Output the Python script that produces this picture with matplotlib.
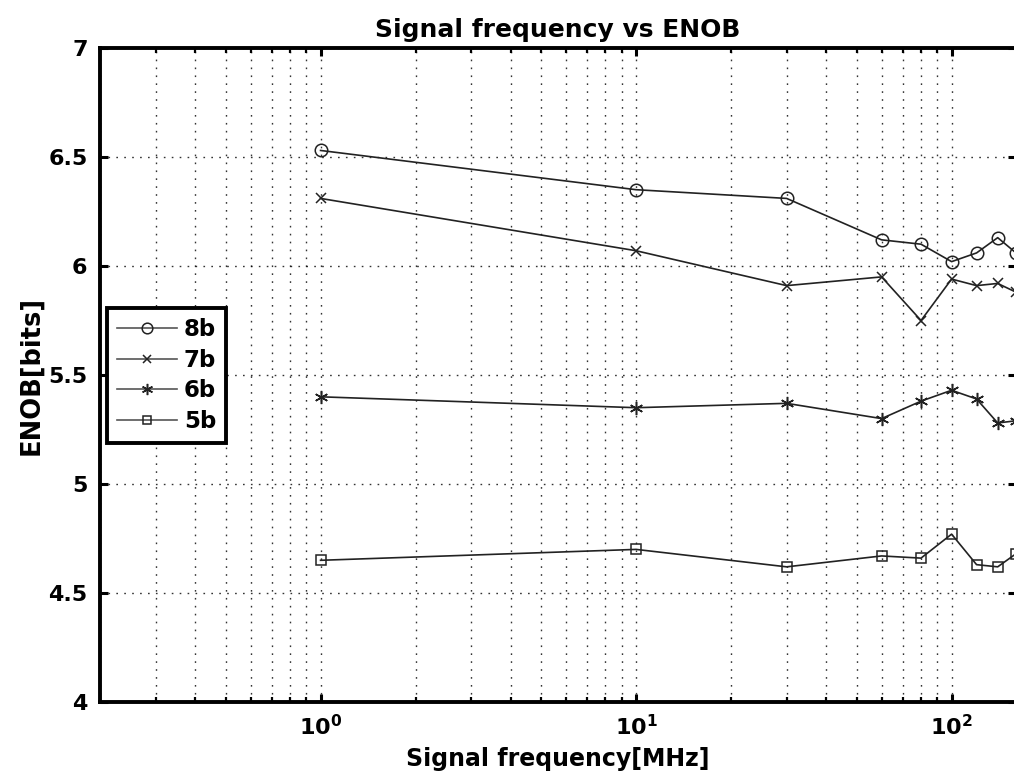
import matplotlib
matplotlib.use("Agg")
import matplotlib.pyplot as plt
from matplotlib.ticker import LogLocator, FixedLocator, FormatStrFormatter, NullFormatter

# ---- data ----
freq_mhz = [1, 10, 30, 60, 80, 100, 120, 140, 160]
enob_8b = [6.53, 6.35, 6.31, 6.12, 6.10, 6.02, 6.06, 6.13, 6.06]
enob_7b = [6.31, 6.07, 5.91, 5.95, 5.75, 5.94, 5.91, 5.92, 5.88]
enob_6b = [5.40, 5.35, 5.37, 5.30, 5.38, 5.43, 5.39, 5.28, 5.29]
enob_5b = [4.65, 4.70, 4.62, 4.67, 4.66, 4.77, 4.63, 4.62, 4.68]
series_labels = ["8b", "7b", "6b", "5b"]
y_ticks = [4, 4.5, 5, 5.5, 6, 6.5, 7]

plt.rcParams['font.family'] = ['DejaVu Sans']
plt.rcParams['font.weight'] = 'bold'
plt.rcParams['mathtext.fontset'] = 'dejavusans'
plt.rcParams['mathtext.default'] = 'bf'

fig = plt.figure(figsize=(10.14, 7.77), dpi=100)
ax = fig.add_axes([100 / 1014, 75 / 777, 916 / 1014, 654 / 777])

lc = '#222222'
styles = [
    dict(marker='o', markersize=9, markerfacecolor='none'),
    dict(marker='x', markersize=7),
    dict(marker=(6, 2, 0), markersize=9.5),
    dict(marker='s', markersize=7.5, markerfacecolor='none'),
]
for vals, lab, st in zip([enob_8b, enob_7b, enob_6b, enob_5b], series_labels, styles):
    ax.plot(freq_mhz, vals, color=lc, linewidth=1.2, markeredgecolor=lc,
            markeredgewidth=1.1, label=lab, **st)

ax.set_xscale('log')
ax.set_xlim(0.2, 160)
ax.set_ylim(4, 7)
ax.yaxis.set_major_locator(FixedLocator(y_ticks))
ax.yaxis.set_major_formatter(FormatStrFormatter('%g'))
ax.xaxis.set_major_locator(LogLocator(base=10, numticks=10))
ax.xaxis.set_minor_locator(LogLocator(base=10, subs=range(2, 10), numticks=20))
ax.xaxis.set_minor_formatter(NullFormatter())

gridkw = dict(color='black', linestyle=(0, (1.2, 4.5)), linewidth=1.0, alpha=0.8)
ax.grid(True, which='major', axis='both', **gridkw)
ax.grid(True, which='minor', axis='x', **gridkw)

for s in ax.spines.values():
    s.set_linewidth(2.8)
ax.tick_params(which='major', direction='in', length=6, width=2.2,
               top=True, right=True, labelsize=16, pad=9)
ax.tick_params(which='minor', direction='in', length=3.5, width=1.6,
               top=True, right=True)
for t in ax.get_xticklabels() + ax.get_yticklabels():
    t.set_fontweight('bold')

ax.set_title('Signal frequency vs ENOB', fontsize=18, fontweight='bold', pad=8)
ax.set_xlabel('Signal frequency[MHz]', fontsize=17, fontweight='bold', labelpad=5)
ax.set_ylabel('ENOB[bits]', fontsize=18.5, fontweight='bold', labelpad=3)

leg = ax.legend(loc='upper left', bbox_to_anchor=(107 / 1014, 1 - 308 / 777),
                bbox_transform=fig.transFigure, borderaxespad=0,
                prop=dict(size=16.5, weight='bold'), handlelength=2.6,
                handletextpad=0.3, borderpad=0.45, labelspacing=0.33,
                markerscale=0.85,
                fancybox=False, framealpha=1, edgecolor='black')
leg.get_frame().set_linewidth(2.8)
for h in leg.legend_handles:
    h.set_color('#555555')
    h.set_markeredgecolor('#222222')

fig.savefig('out.png', dpi=100)
